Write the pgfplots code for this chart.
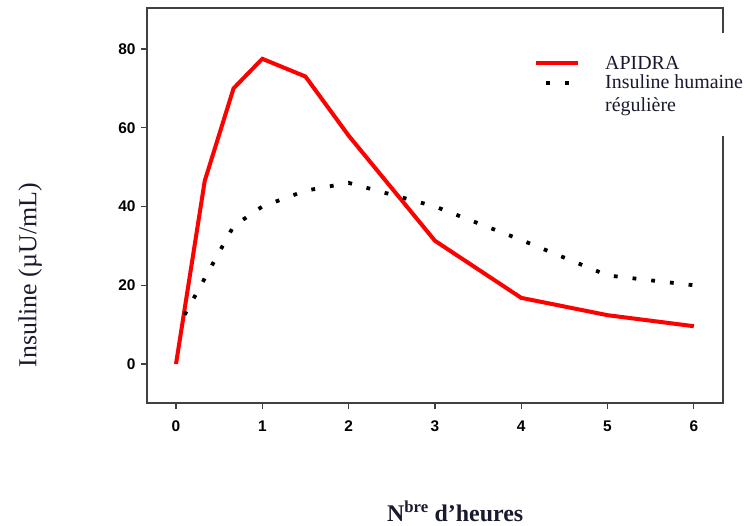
\documentclass[border=0pt]{standalone}
\usepackage{fontspec}
\setmainfont{Liberation Serif}
\setsansfont{Liberation Sans}
\usepackage{pgfplots}
\pgfplotsset{compat=1.18}

\definecolor{axisgray}{HTML}{404040}
\definecolor{txtnavy}{HTML}{1A1A2E}

\begin{document}
\begin{tikzpicture}
\path[use as bounding box] (-147bp,-123bp) rectangle (603bp,403bp);
\begin{axis}[
    scale only axis,
    width=576bp, height=395bp,
    xmin=-0.336, xmax=6.338,
    ymin=-9.9, ymax=90.4,
    xtick={0,1,2,3,4,5,6},
    ytick={0,20,40,60,80},
    tick align=outside,
    xtick pos=left, ytick pos=left,
    major tick length=6bp,
    axis line style={axisgray, line width=1.4bp},
    every tick/.style={axisgray, line width=1.2bp},
    /pgf/number format/assume math mode=true,
    tick label style={font=\sffamily\bfseries\fontsize{15.5}{17}\selectfont},
    xticklabel style={yshift=-8bp},
    yticklabel style={xshift=-2bp},
    xlabel={\textbf{N\textsuperscript{bre} d’heures}},
    xlabel style={at={(axis description cs:0.535,-0.299)}, anchor=base,
      inner sep=0pt, font=\fontsize{24}{28}\selectfont, text=txtnavy},
    ylabel={Insuline (µU/mL)},
    ylabel style={at={(axis description cs:-0.203,0.324)}, anchor=center,
      font=\fontsize{26}{30}\selectfont, text=txtnavy},
    legend style={draw=none, fill=white, at={(axis description cs:0.665,0.937)},
      anchor=north west, inner xsep=4bp, inner ysep=21bp,
      font=\fontsize{20}{23}\selectfont, text=txtnavy,
      nodes={align=left, inner sep=2bp}, row sep=0bp, column sep=23bp},
    legend cell align=left,
    legend image code/.code={\draw[#1] (0bp,0bp) -- (42bp,0bp);},
  ]
  \addplot[red, line width=4bp, line join=miter] coordinates {
    (0,0) (0.333,46.5) (0.667,70) (1,77.5) (1.5,73) (2,58)
    (3,31.3) (4,16.8) (5,12.4) (6,9.6)};
  \addlegendentry{APIDRA}
  \addplot[black, line width=3.8bp, dash pattern=on 3.8bp off 15bp,
    legend image post style={yshift=11bp, dash phase=-10bp}] coordinates {
    (0.1,12.5) (0.667,35) (1,40) (1.5,44) (2,46) (3,40)
    (4,31.5) (5,22.5) (6,20)};
  \addlegendentry{Insuline humaine\\régulière}
\end{axis}
\end{tikzpicture}
\end{document}
